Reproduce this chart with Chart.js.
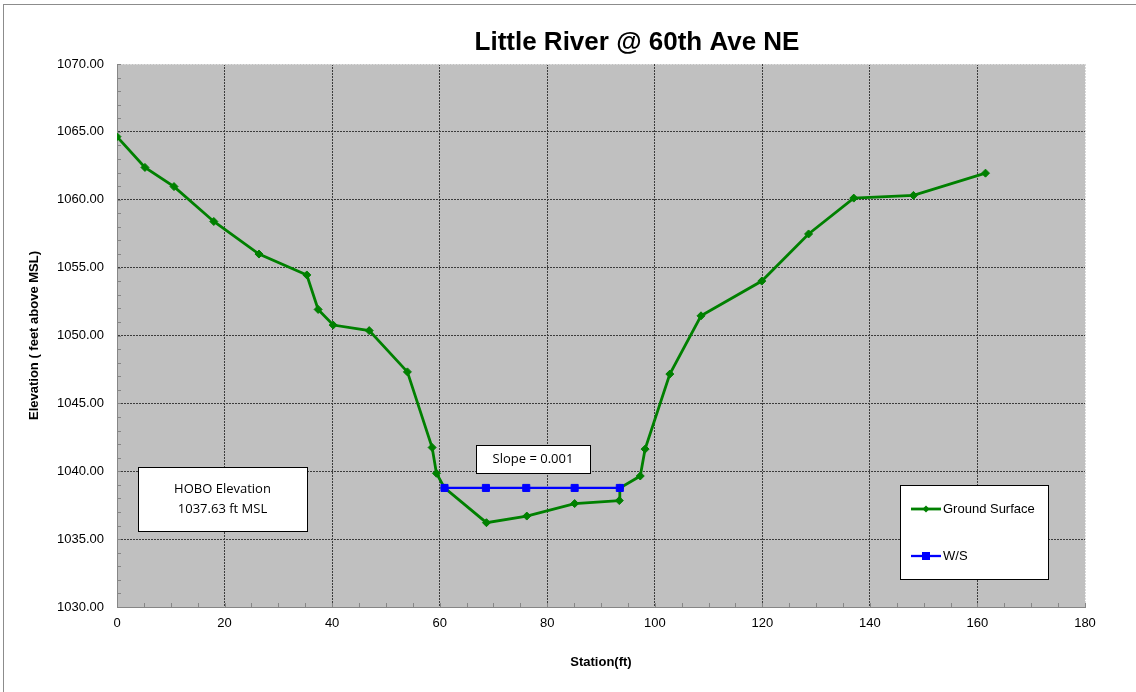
<!DOCTYPE html>
<html>
<head>
<meta charset="utf-8">
<title>Little River @ 60th Ave NE</title>
<script src="https://cdn.jsdelivr.net/npm/chart.js@4/dist/chart.umd.min.js"></script>
<style>
    html, body { margin: 0; padding: 0; background: #ffffff; }
    #wrap { width: 1136px; height: 692px; }
</style>
</head>
<body>
<div id="wrap"><canvas id="chart-river" width="1136" height="692"></canvas></div>
<script>
var stationGround = [0, 5.2, 10.6, 18.0, 26.4, 35.3, 37.4, 40.2, 46.9, 54.0, 58.6, 59.4, 60.9, 68.7, 76.2, 85.1, 93.4, 93.5, 97.3, 98.2, 102.8, 108.6, 119.9, 128.6, 137.0, 148.1, 161.5];
var elevGround = [1064.65, 1062.38, 1060.97, 1058.40, 1056.00, 1054.46, 1051.92, 1050.77, 1050.36, 1047.32, 1041.75, 1039.85, 1038.77, 1036.21, 1036.70, 1037.62, 1037.84, 1038.77, 1039.65, 1041.63, 1047.16, 1051.45, 1054.01, 1057.48, 1060.12, 1060.32, 1061.96];
var stationWS = [60.9, 68.6, 76.1, 85.1, 93.5];
var elevWS = [1038.77, 1038.77, 1038.77, 1038.77, 1038.77];
var xTicks = [0, 20, 40, 60, 80, 100, 120, 140, 160, 180];
var yTicks = [1030, 1035, 1040, 1045, 1050, 1055, 1060, 1065, 1070];

var chartTitle = 'Little River @ 60th Ave NE';
var xTitle = 'Station(ft)';
var yTitle = 'Elevation ( feet above MSL)';
var slopeNote = ['Slope = 0.001'];
var hoboNote = ['HOBO Elevation', '1037.63 ft MSL'];

var FONT = "'Liberation Sans', Arial, sans-serif";

function toPoints(xs, ys) {
    var pts = [];
    for (var i = 0; i < xs.length; i++) {
        pts.push({ x: xs[i], y: ys[i] });
    }
    return pts;
}

function drawNote(ctx, lines, x1, y1, x2, y2, fontSize, lineGap) {
    ctx.save();
    ctx.fillStyle = '#ffffff';
    ctx.fillRect(x1, y1, x2 - x1, y2 - y1);
    ctx.strokeStyle = '#000000';
    ctx.lineWidth = 1;
    ctx.strokeRect(x1 + 0.5, y1 + 0.5, x2 - x1, y2 - y1);
    ctx.fillStyle = '#000000';
    ctx.font = fontSize + "px 'Open Sans', " + FONT;
    ctx.textAlign = 'center';
    ctx.textBaseline = 'middle';
    var cy = (y1 + y2) / 2 - (lines.length - 1) * lineGap / 2;
    for (var i = 0; i < lines.length; i++) {
        ctx.fillText(lines[i], (x1 + x2) / 2, cy + i * lineGap);
    }
    ctx.restore();
}

var framePlugin = {
    id: 'framePlugin',
    beforeDraw: function (chart) {
        var ctx = chart.ctx;
        var a = chart.chartArea;
        ctx.save();
        ctx.fillStyle = '#ffffff';
        ctx.fillRect(0, 0, chart.width, chart.height);
        ctx.strokeStyle = '#8c8c8c';
        ctx.lineWidth = 1;
        ctx.strokeRect(3.5, 4.5, chart.width + 10, chart.height + 10);
        ctx.fillStyle = '#c0c0c0';
        ctx.fillRect(a.left, a.top, a.right - a.left, a.bottom - a.top);
        ctx.restore();
    },
    beforeDatasetsDraw: function (chart) {
        // solid axis lines over the dotted border
        var ctx = chart.ctx;
        var a = chart.chartArea;
        ctx.save();
        ctx.strokeStyle = '#868686';
        ctx.lineWidth = 1;
        ctx.setLineDash([]);
        ctx.beginPath();
        ctx.moveTo(a.left + 0.5, a.top);
        ctx.lineTo(a.left + 0.5, a.bottom + 0.5);
        ctx.lineTo(a.right, a.bottom + 0.5);
        ctx.stroke();
        ctx.restore();
    },
    afterDraw: function (chart) {
        var ctx = chart.ctx;
        var xs = chart.scales.x;
        var ys = chart.scales.y;
        var a = chart.chartArea;
        ctx.save();
        // minor ticks, inside the plot
        ctx.strokeStyle = '#868686';
        ctx.lineWidth = 1;
        ctx.beginPath();
        for (var v = xs.min; v <= xs.max; v += 5) {
            var px = Math.round(xs.getPixelForValue(v)) + 0.5;
            ctx.moveTo(px, a.bottom);
            ctx.lineTo(px, a.bottom - 4);
        }
        for (var w = ys.min; w <= ys.max; w += 1) {
            var py = Math.round(ys.getPixelForValue(w)) + 0.5;
            ctx.moveTo(a.left, py);
            ctx.lineTo(a.left + 4, py);
        }
        ctx.stroke();

        // title
        ctx.fillStyle = '#000000';
        ctx.font = "bold 26px " + FONT;
        ctx.textAlign = 'center';
        ctx.textBaseline = 'middle';
        ctx.fillText(chartTitle, 637, 43);

        // text boxes
        drawNote(ctx, slopeNote, 476, 445, 590, 473, 13, 18);
        drawNote(ctx, hoboNote, 138, 467, 307, 531, 13, 20);

        // legend box
        var lx1 = 900, ly1 = 485, lx2 = 1048, ly2 = 579;
        ctx.fillStyle = '#ffffff';
        ctx.fillRect(lx1, ly1, lx2 - lx1, ly2 - ly1);
        ctx.strokeStyle = '#000000';
        ctx.strokeRect(lx1 + 0.5, ly1 + 0.5, lx2 - lx1, ly2 - ly1);
        var rows = [509, 556];
        chart.data.datasets.forEach(function (ds, i) {
            var y = rows[i];
            ctx.strokeStyle = ds.borderColor;
            ctx.lineWidth = ds.borderWidth;
            ctx.beginPath();
            ctx.moveTo(911, y);
            ctx.lineTo(941, y);
            ctx.stroke();
            ctx.fillStyle = ds.pointBackgroundColor;
            if (ds.pointStyle === 'rect') {
                ctx.fillRect(926 - 4, y - 4, 8, 8);
            } else {
                ctx.beginPath();
                ctx.moveTo(926, y - 3.5);
                ctx.lineTo(929.5, y);
                ctx.lineTo(926, y + 3.5);
                ctx.lineTo(922.5, y);
                ctx.closePath();
                ctx.fill();
            }
            ctx.fillStyle = '#000000';
            ctx.font = "13px " + FONT;
            ctx.textAlign = 'left';
            ctx.textBaseline = 'middle';
            ctx.fillText(ds.label, 943, y);
        });
        ctx.restore();
    }
};

function gridColor(ctx, edgeMin, edgeMax) {
    var v = ctx.tick ? ctx.tick.value : null;
    if (v === edgeMin) return 'rgba(0,0,0,0)';
    if (v === edgeMax) return '#d9d9d9';
    return '#3c3c3c';
}

var config = {
    type: 'scatter',
    data: {
        datasets: [
            {
                label: 'Ground Surface',
                data: toPoints(stationGround, elevGround),
                showLine: true,
                borderColor: '#008000',
                backgroundColor: '#008000',
                pointBackgroundColor: '#008000',
                pointBorderColor: '#008000',
                borderWidth: 2.8,
                pointStyle: 'rectRot',
                pointRadius: 4,
                pointBorderWidth: 1,
                order: 2
            },
            {
                label: 'W/S',
                data: toPoints(stationWS, elevWS),
                showLine: true,
                borderColor: '#0000ff',
                backgroundColor: '#0000ff',
                pointBackgroundColor: '#0000ff',
                pointBorderColor: '#0000ff',
                borderWidth: 2.3,
                pointStyle: 'rect',
                pointRadius: 5,
                pointBorderWidth: 1,
                order: 1
            }
        ]
    },
    options: {
        responsive: false,
        animation: false,
        layout: { padding: { left: 0, right: 51, top: 64, bottom: 0 } },
        plugins: {
            legend: { display: false },
            title: { display: false },
            tooltip: { enabled: false }
        },
        scales: {
            x: {
                type: 'linear',
                min: 0,
                max: 180,
                afterFit: function (scale) { scale.height = 85; },
                afterBuildTicks: function (scale) {
                    scale.ticks = xTicks.map(function (v) { return { value: v }; });
                },
                ticks: {
                    color: '#000000',
                    padding: 9,
                    maxRotation: 0,
                    font: { family: FONT, size: 13 },
                    callback: function (v) { return String(v); }
                },
                grid: {
                    drawTicks: false,
                    lineWidth: 1,
                    color: function (ctx) { return gridColor(ctx, 0, 180); }
                },
                // in v4 the dash of the grid lines comes from border.dash
                border: { color: '#868686', width: 1, dash: [2, 1] },
                title: {
                    display: true,
                    text: xTitle,
                    color: '#000000',
                    font: { family: FONT, size: 13, weight: 'bold' },
                    padding: { top: 0, bottom: 22 }
                }
            },
            y: {
                type: 'linear',
                min: 1030,
                max: 1070,
                afterFit: function (scale) { scale.width = 117; },
                afterBuildTicks: function (scale) {
                    scale.ticks = yTicks.map(function (v) { return { value: v }; });
                },
                ticks: {
                    color: '#000000',
                    padding: 13,
                    font: { family: FONT, size: 13 },
                    callback: function (v) { return Number(v).toFixed(2); }
                },
                grid: {
                    drawTicks: false,
                    lineWidth: 1,
                    color: function (ctx) { return gridColor(ctx, 1030, 1070); }
                },
                border: { color: '#868686', width: 1, dash: [2, 1] },
                title: {
                    display: true,
                    text: yTitle,
                    color: '#000000',
                    font: { family: FONT, size: 13, weight: 'bold' },
                    padding: { top: 27, bottom: 0 }
                }
            }
        }
    },
    plugins: [framePlugin]
};

var ctx = document.getElementById('chart-river').getContext('2d');
var riverChart = new Chart(ctx, config);
</script>
</body>
</html>
